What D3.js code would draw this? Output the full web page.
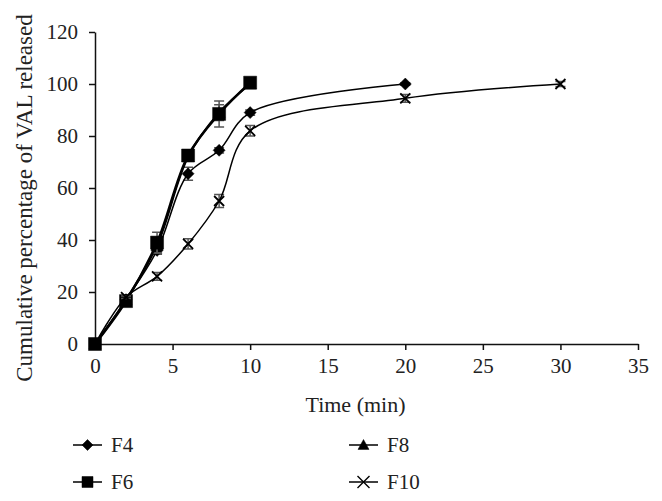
<!DOCTYPE html>
<html>
<head>
<meta charset="utf-8">
<script src="https://cdn.jsdelivr.net/npm/d3@7"></script>
<style>
  body { margin: 0; background: #fff; }
  svg text { font-family: "Liberation Serif", "DejaVu Serif", serif; fill: #222; }
  .axis path, .axis line { stroke: #111; stroke-width: 1.5; }
  .axis text { font-size: 21px; }
</style>
</head>
<body>
<div id="chart"></div>
<script>
var time = [0, 2, 4, 6, 8, 10, 20, 30];
var f4 = [0, 17, 36, 65.5, 74.5, 89, 100];
var f4err = [0, 1, 1.5, 2.5, 1, 1, 0.5];
var f6 = [0, 16.5, 39, 72.5, 88.5, 100.5];
var f6err = [0, 1, 4, 1.5, 5, 0.5];
var f8 = [0, 17, 38, 72, 89, 100];
var f8err = [0, 1, 3, 1.5, 3, 0.5];
var f10 = [0, 18, 26, 38.5, 55, 82, 94.5, 100];
var f10err = [0, 0.5, 1.5, 2, 2.5, 2, 1.5, 1];
var xTicks = [0, 5, 10, 15, 20, 25, 30, 35];
var yTicks = [0, 20, 40, 60, 80, 100, 120];

var series = [
	{name: 'F4', values: f4, err: f4err, symbol: 'diamond', width: 1.5},
	{name: 'F8', values: f8, err: f8err, symbol: 'triangle', width: 2.2},
	{name: 'F6', values: f6, err: f6err, symbol: 'square', width: 2.5},
	{name: 'F10', values: f10, err: f10err, symbol: 'cross', width: 1.5}
];

var width = 662, height = 501;
var margin = {top: 32, right: 24, bottom: 157, left: 95};
var chartWidth = width - margin.left - margin.right;
var chartHeight = height - margin.top - margin.bottom;

var svg = d3.select('#chart').append('svg')
	.attr('width', width)
	.attr('height', height);

var g = svg.append('g')
	.attr('transform', `translate(${margin.left}, ${margin.top})`);

var xScale = d3.scaleLinear().domain([0, 35]).range([0, chartWidth]);
var yScale = d3.scaleLinear().domain([0, 120]).range([chartHeight, 0]);

g.append('g')
	.attr('class', 'x axis')
	.attr('transform', `translate(0, ${chartHeight})`)
	.call(d3.axisBottom(xScale).tickValues(xTicks).tickSize(6).tickPadding(8).tickSizeOuter(0));

g.append('g')
	.attr('class', 'y axis')
	.call(d3.axisLeft(yScale).tickValues(yTicks).tickSize(6).tickPadding(11).tickSizeOuter(0));

g.selectAll('.axis text').attr('font-family', '"Liberation Serif", serif');

// axis titles
g.append('text')
	.attr('x', xScale(17.5) - 11)
	.attr('y', chartHeight + 68)
	.attr('text-anchor', 'middle')
	.attr('font-size', 22)
	.text('Time (min)');

svg.append('text')
	.attr('transform', 'translate(32, 198) rotate(-90)')
	.attr('text-anchor', 'middle')
	.attr('font-size', 23)
	.text('Cumulative percentage of VAL released');

function symbolPath(type, size) {
	var s = size / 2;
	if (type === 'cross') {
		return `M${-s},${-s}L${s},${s}M${-s},${s}L${s},${-s}`;
	}
	if (type === 'diamond') {
		return `M0,${-s}L${s},0L0,${s}L${-s},0Z`;
	}
	if (type === 'square') {
		return `M${-s},${-s}H${s}V${s}H${-s}Z`;
	}
	return `M0,${-s}L${s},${s * 0.8}H${-s}Z`;
}

var line = d3.line()
	.x((d, i) => xScale(time[i]))
	.y(d => yScale(d))
	.curve(d3.curveCatmullRom.alpha(0.5));

var markerSize = {diamond: 12, square: 13, triangle: 12, cross: 10};

series.forEach(function(s) {
	var sg = g.append('g');

	// error bars
	s.values.forEach(function(v, i) {
		if (!s.err[i]) return;
		var x = xScale(time[i]);
		var y0 = yScale(v - s.err[i]), y1 = yScale(v + s.err[i]);
		sg.append('path')
			.attr('d', `M${x},${y0}V${y1}M${x - 5},${y0}H${x + 5}M${x - 5},${y1}H${x + 5}`)
			.attr('stroke', '#555')
			.attr('stroke-width', 1.5)
			.attr('fill', 'none');
	});

	sg.append('path')
		.datum(s.values)
		.attr('d', line)
		.attr('fill', 'none')
		.attr('stroke', '#000')
		.attr('stroke-width', s.width);

	sg.selectAll('.pt')
		.data(s.values)
		.enter()
		.append('path')
		.attr('transform', (d, i) => `translate(${xScale(time[i])}, ${yScale(d)})`)
		.attr('d', symbolPath(s.symbol, markerSize[s.symbol]))
		.attr('fill', s.symbol === 'cross' ? 'none' : '#000')
		.attr('stroke', '#000')
		.attr('stroke-width', s.symbol === 'cross' ? 1.8 : 0.5);
});

// legend
var legendItems = [
	{name: 'F4', symbol: 'diamond', x: 73, y: 445},
	{name: 'F6', symbol: 'square', x: 73, y: 482},
	{name: 'F8', symbol: 'triangle', x: 349, y: 445},
	{name: 'F10', symbol: 'cross', x: 349, y: 482}
];

var legend = svg.append('g');
legendItems.forEach(function(d) {
	var lg = legend.append('g').attr('transform', `translate(${d.x}, ${d.y})`);
	lg.append('line')
		.attr('x1', 0).attr('x2', 29)
		.attr('stroke', '#000')
		.attr('stroke-width', 1.5);
	lg.append('path')
		.attr('transform', 'translate(14.5, 0)')
		.attr('d', symbolPath(d.symbol, d.symbol === 'cross' ? 12 : 11))
		.attr('fill', d.symbol === 'cross' ? 'none' : '#000')
		.attr('stroke', '#000')
		.attr('stroke-width', d.symbol === 'cross' ? 1.4 : 0.5);
	lg.append('text')
		.attr('x', 38)
		.attr('y', 7)
		.attr('font-size', 21)
		.text(d.name);
});
</script>
</body>
</html>
